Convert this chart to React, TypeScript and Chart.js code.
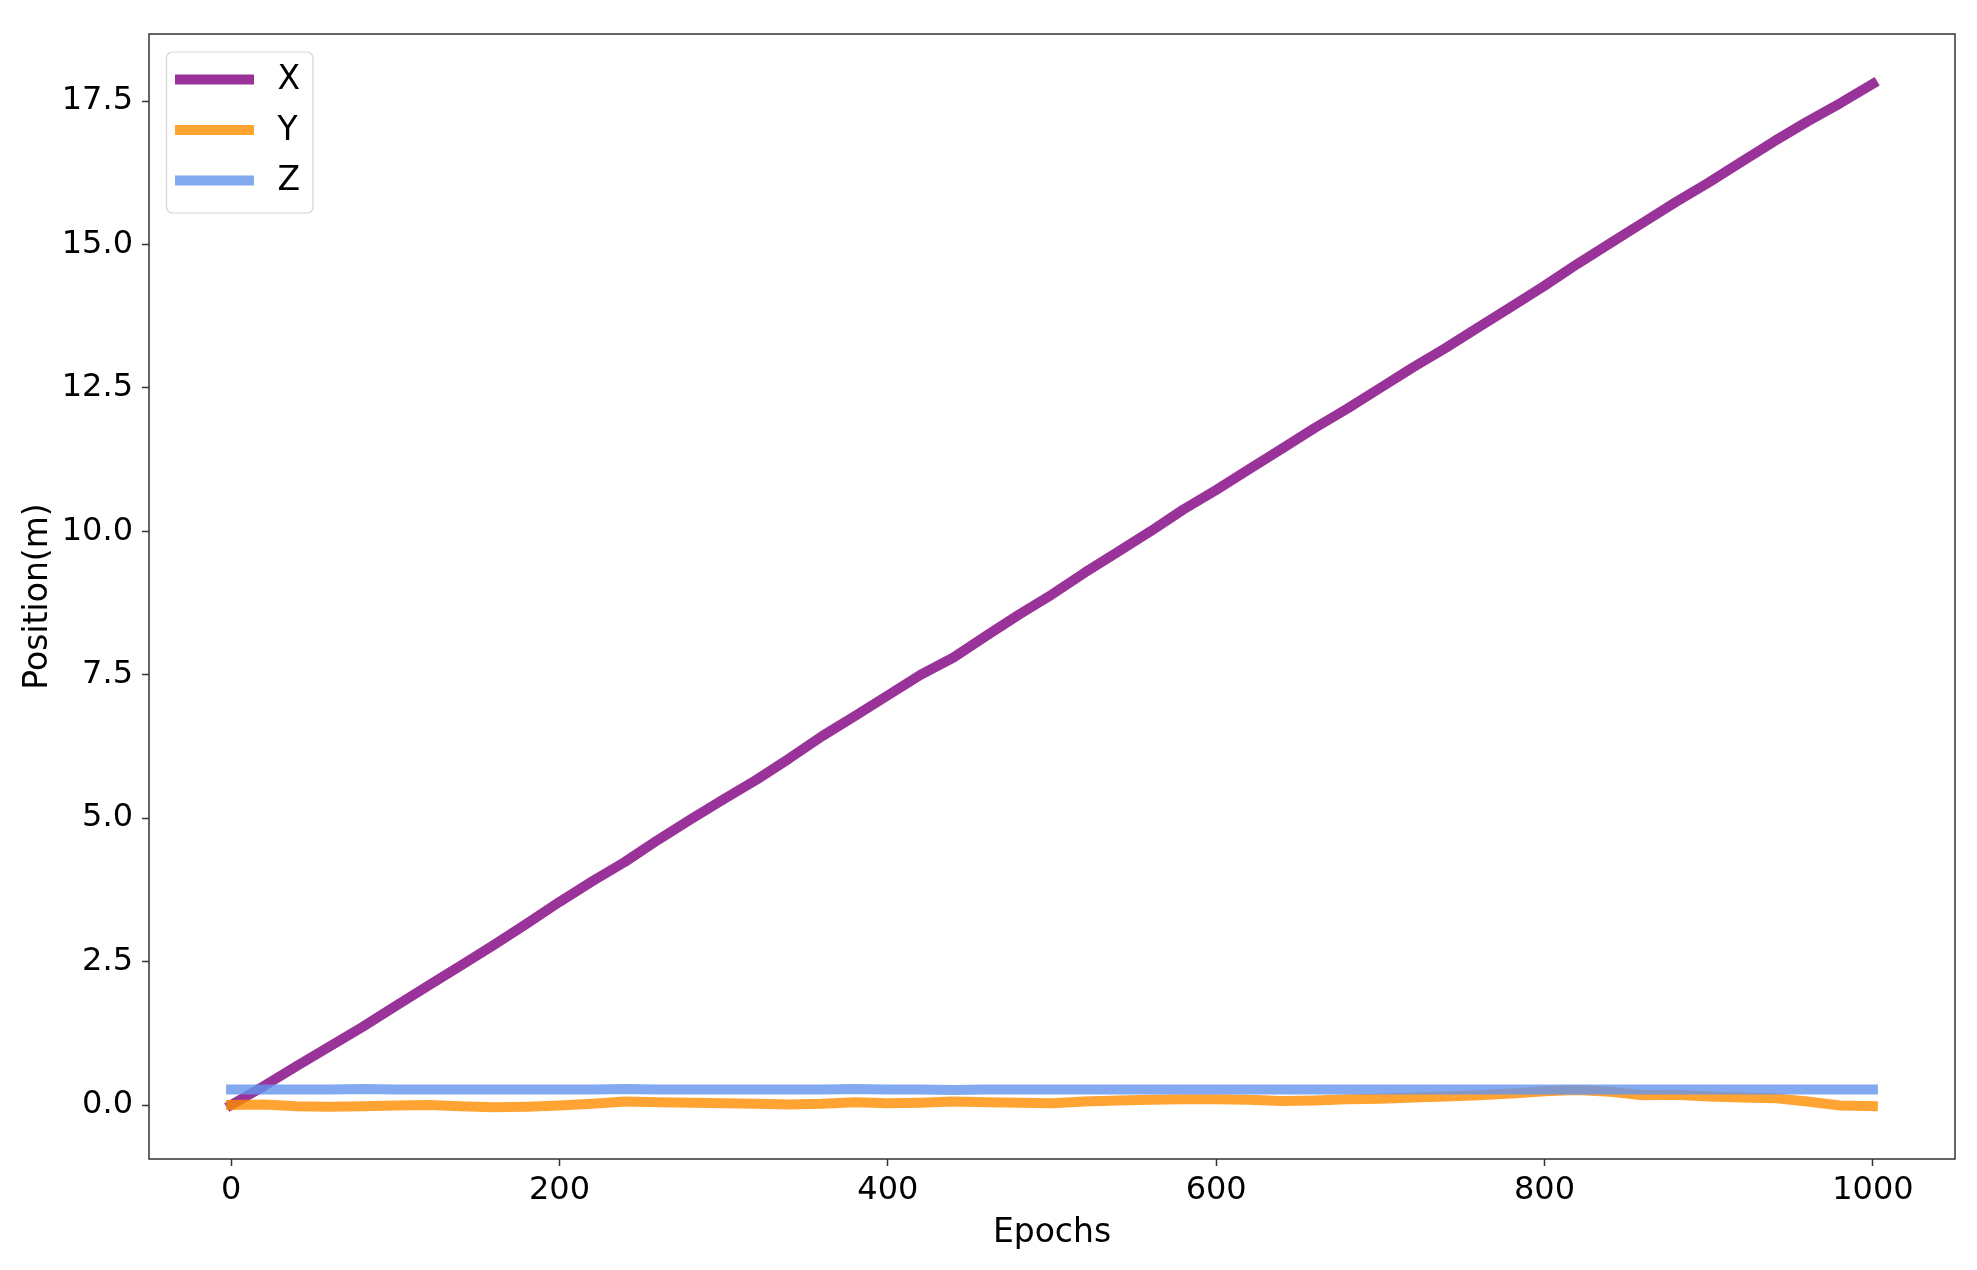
import React, { useEffect, useRef } from "react";
import { Chart, registerables } from "chart.js";

Chart.register(...registerables);

const epochs = [
  0, 20, 40, 60, 80, 100, 120, 140, 160, 180, 200, 220, 240, 260, 280, 300, 320, 340, 360, 380,
  400, 420, 440, 460, 480, 500, 520, 540, 560, 580, 600, 620, 640, 660, 680, 700, 720, 740, 760,
  780, 800, 820, 840, 860, 880, 900, 920, 940, 960, 980, 1000,
];

const posX = [
  0.0, 0.33, 0.68, 1.02, 1.36, 1.72, 2.08, 2.43, 2.79, 3.16, 3.54, 3.9, 4.24, 4.62, 4.98, 5.33,
  5.67, 6.04, 6.43, 6.78, 7.14, 7.5, 7.8, 8.18, 8.55, 8.9, 9.28, 9.64, 10.0, 10.38, 10.72, 11.08,
  11.44, 11.8, 12.14, 12.5, 12.86, 13.2, 13.56, 13.92, 14.28, 14.66, 15.02, 15.38, 15.74, 16.08,
  16.44, 16.8, 17.14, 17.46, 17.8,
];

const posY = [
  0.0, 0.01, -0.02, -0.03, -0.02, -0.01, 0.0, -0.02, -0.04, -0.03, -0.01, 0.02, 0.06, 0.05, 0.04,
  0.03, 0.02, 0.01, 0.02, 0.05, 0.03, 0.04, 0.06, 0.05, 0.04, 0.03, 0.06, 0.08, 0.09, 0.1, 0.1,
  0.09, 0.07, 0.08, 0.1, 0.11, 0.13, 0.15, 0.17, 0.2, 0.24, 0.26, 0.23, 0.17, 0.18, 0.15, 0.13,
  0.12, 0.06, -0.01, -0.02,
];

const posZ = [
  0.27, 0.27, 0.27, 0.27, 0.28, 0.27, 0.27, 0.27, 0.27, 0.27, 0.27, 0.27, 0.28, 0.27, 0.27, 0.27,
  0.27, 0.27, 0.27, 0.28, 0.27, 0.27, 0.26, 0.27, 0.27, 0.27, 0.27, 0.27, 0.27, 0.27, 0.27, 0.27,
  0.27, 0.27, 0.27, 0.27, 0.27, 0.27, 0.27, 0.27, 0.27, 0.27, 0.27, 0.27, 0.27, 0.27, 0.27, 0.27,
  0.27, 0.27, 0.27,
];

const seriesLabels = ["X", "Y", "Z"];
const seriesColors = ["rgba(128,0,128,0.8)", "rgba(255,140,0,0.8)", "rgba(100,149,237,0.8)"];
const xTicks = [0, 200, 400, 600, 800, 1000];
const yTicks = [0, 2.5, 5, 7.5, 10, 12.5, 15, 17.5];
const xTitle = "Epochs";
const yTitle = "Position(m)";

const FONT = "'DejaVu Sans', sans-serif";

const frameAndLegend = {
  id: "frameAndLegend",
  afterDatasetsDraw(chart: any) {
    const { ctx, chartArea } = chart;
    ctx.save();
    // spines
    ctx.strokeStyle = "#333";
    ctx.lineWidth = 1.5;
    ctx.strokeRect(chartArea.left, chartArea.top, chartArea.right - chartArea.left, chartArea.bottom - chartArea.top);

    // legend
    const bx = chartArea.left + 17.5;
    const by = chartArea.top + 18;
    const bw = 146.5;
    const bh = 161;
    ctx.beginPath();
    ctx.roundRect(bx, by, bw, bh, 6);
    ctx.fillStyle = "rgba(255,255,255,0.8)";
    ctx.fill();
    ctx.strokeStyle = "#d6d6d6";
    ctx.lineWidth = 1.2;
    ctx.stroke();

    const ds = chart.data.datasets;
    ctx.font = `33px ${FONT}`;
    ctx.textBaseline = "middle";
    ctx.textAlign = "left";
    for (let i = 0; i < ds.length; i++) {
      const cy = by + 27.5 + i * 50.5;
      ctx.beginPath();
      ctx.strokeStyle = ds[i].borderColor;
      ctx.lineWidth = 10;
      ctx.lineCap = "butt";
      ctx.moveTo(bx + 8.5, cy);
      ctx.lineTo(bx + 87.5, cy);
      ctx.stroke();
      ctx.fillStyle = "#000";
      ctx.fillText(ds[i].label, bx + 111, cy + 1);
    }
    ctx.restore();
  },
};

export default function App() {
  const ref = useRef<HTMLCanvasElement | null>(null);

  useEffect(() => {
    if (!ref.current) return;
    const mk = (vals: number[]) => epochs.map((e, i) => ({ x: e, y: vals[i] }));
    const allVals = [posX, posY, posZ];
    const chart = new Chart(ref.current, {
      type: "line",
      data: {
        datasets: allVals.map((v, i) => ({
          label: seriesLabels[i],
          data: mk(v),
          borderColor: seriesColors[i],
          backgroundColor: seriesColors[i],
          borderWidth: 10,
          pointRadius: 0,
          fill: false,
          tension: 0,
          borderCapStyle: "square" as const,
          borderJoinStyle: "round" as const,
          order: 3 - i,
        })),
      },
      options: {
        responsive: false,
        animation: false,
        events: [],
        layout: { padding: { top: 34, right: 22, left: 0, bottom: 0 } },
        plugins: {
          legend: { display: false },
          tooltip: { enabled: false },
        },
        scales: {
          x: {
            type: "linear",
            min: -50,
            max: 1050,
            afterBuildTicks: (s: any) => {
              s.ticks = xTicks.map((v) => ({ value: v }));
            },
            afterFit: (s: any) => {
              s.height = 111;
            },
            ticks: {
              color: "#000",
              font: { family: FONT, size: 32 },
              padding: 5,
              maxRotation: 0,
              autoSkip: false,
              callback: (v: any) => String(v),
            },
            grid: {
              drawOnChartArea: false,
              drawTicks: true,
              tickLength: 7,
              tickWidth: 1.5,
              tickColor: "#333",
            },
            border: { display: false },
            title: {
              display: true,
              text: xTitle,
              color: "#000",
              font: { family: FONT, size: 33 },
              padding: { top: 0, bottom: 17 },
            },
          },
          y: {
            type: "linear",
            min: -0.941,
            max: 18.668,
            afterBuildTicks: (s: any) => {
              s.ticks = yTicks.map((v) => ({ value: v }));
            },
            afterFit: (s: any) => {
              s.width = 149;
            },
            ticks: {
              color: "#000",
              font: { family: FONT, size: 32 },
              padding: 9,
              autoSkip: false,
              callback: (v: any) => Number(v).toFixed(1),
            },
            grid: {
              drawOnChartArea: false,
              drawTicks: true,
              tickLength: 7,
              tickWidth: 1.5,
              tickColor: "#333",
            },
            border: { display: false },
            title: {
              display: true,
              text: yTitle,
              color: "#000",
              font: { family: FONT, size: 33 },
              padding: { top: 19, bottom: 0 },
            },
          },
        },
      },
      plugins: [frameAndLegend],
    });
    return () => chart.destroy();
  }, []);

  return (
    <div style={{ position: "fixed", left: 0, top: 0, width: 1977, height: 1270, background: "#fff" }}>
      <canvas ref={ref} width={1977} height={1270} style={{ display: "block", width: 1977, height: 1270 }} />
    </div>
  );
}
